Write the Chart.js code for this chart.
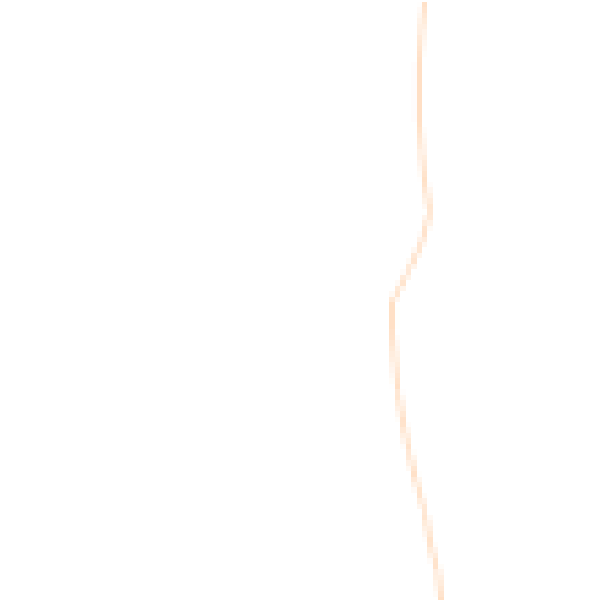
<!DOCTYPE html>
<html>
<head>
<meta charset="utf-8">
<style>
html,body{margin:0;padding:0;background:#ffffff;overflow:hidden;width:600px;height:600px;}
#wrap{width:600px;height:600px;position:absolute;left:2px;top:2px;}
canvas{image-rendering:pixelated;}
</style>
<script src="https://cdn.jsdelivr.net/npm/chart.js@4/dist/chart.umd.min.js"></script>
</head>
<body>
<div id="wrap"><canvas id="c"></canvas></div>
<script>
// depth levels (top to bottom) and the series value at each level
const depths = [0, 5, 10, 15, 20, 25, 30, 35, 40, 45, 50, 55, 60, 65, 70, 75, 80, 85, 90, 95, 100];
const values = [70.45, 69.9, 69.5, 69.5, 69.5, 69.95, 70.45, 71.3, 69.95, 67.6, 65.0, 65.0, 65.5, 65.95, 66.8, 67.8, 69.0, 70.45, 71.35, 72.6, 73.2];
const seriesColor = 'rgb(255, 224, 198)';

const points = depths.map((d, i) => ({ x: values[i], y: d }));

new Chart(document.getElementById('c'), {
  type: 'line',
  data: {
    datasets: [{
      label: 'Profile',
      data: points,
      borderColor: seriesColor,
      backgroundColor: seriesColor,
      borderWidth: 5.45,
      pointRadius: 0,
      tension: 0,
      fill: false
    }]
  },
  options: {
    indexAxis: 'y',
    responsive: true,
    maintainAspectRatio: false,
    devicePixelRatio: 0.1834,
    animation: false,
    events: [],
    layout: { padding: 0 },
    plugins: { legend: { display: false }, tooltip: { enabled: false } },
    scales: {
      x: { type: 'linear', min: 0, max: 100, display: false },
      y: { type: 'linear', min: 0, max: 100, reverse: true, display: false }
    }
  }
});
</script>
</body>
</html>
